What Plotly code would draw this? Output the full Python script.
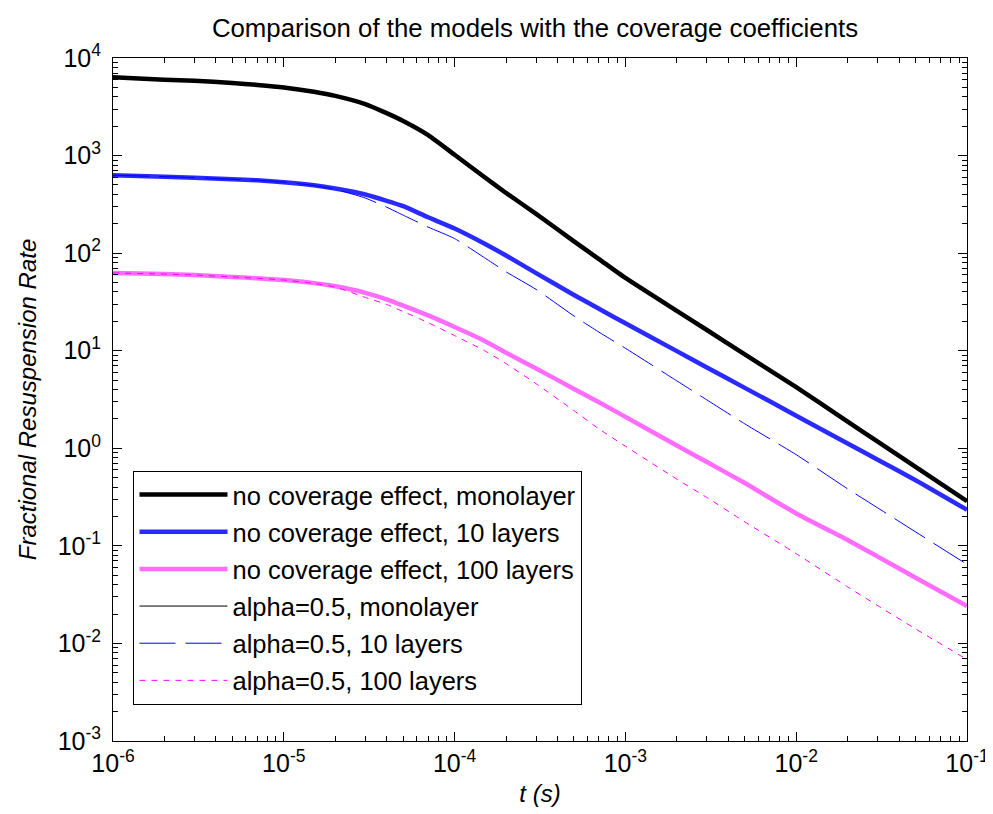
import plotly.graph_objects as go

# ---- data ----
t = [1e-6, 2e-6, 3e-6, 5e-6, 7e-6, 1e-5, 1.5e-5, 2e-5, 3e-5, 4e-5, 5e-5, 7e-5,
     1e-4, 1.5e-4, 2e-4, 3e-4, 5e-4, 7e-4, 1e-3, 2e-3, 3e-3, 5e-3,
     1e-2, 2e-2, 3e-2, 5e-2, 1e-1]

no_cov_mono = [6340, 5980, 5830, 5550, 5300, 4990, 4500, 4090, 3370, 2720, 2260, 1620,
               1020, 600, 414, 253, 132, 86.9, 55.7, 25.6, 16.3, 9.18,
               4.23, 1.88, 1.17, 0.645, 0.287]
no_cov_10 = [628, 608, 594, 571, 558, 534, 496, 459, 399, 344, 303, 233,
             179, 125, 94.6, 62.4, 37.3, 26.9, 19.1, 9.9, 6.74, 4.16,
             2.16, 1.12, 0.762, 0.471, 0.234]
no_cov_100 = [62.7, 61, 59.6, 57.1, 55.2, 53, 49.3, 45.7, 39.2, 33.6, 29, 23,
              17.5, 12.6, 9.55, 6.58, 4.06, 2.97, 2.1, 1.07, 0.723, 0.44,
              0.215, 0.115, 0.0776, 0.0472, 0.0241]
alpha_mono = [6340, 5980, 5830, 5550, 5300, 4990, 4500, 4090, 3370, 2720, 2260, 1620,
              1020, 600, 414, 253, 132, 86.9, 55.7, 25.6, 16.3, 9.18,
              4.23, 1.88, 1.17, 0.645, 0.287]
alpha_10 = [628, 608, 594, 571, 558, 534, 494, 452, 367, 296, 245, 185,
            141, 89.5, 64.4, 42.5, 22.7, 15.5, 10.6, 4.91, 3.13, 1.78,
            0.86, 0.384, 0.245, 0.139, 0.0646]
alpha_100 = [62.7, 61, 59.6, 57.1, 55.2, 53, 49.0, 44.9, 35.2, 29.8, 25.2, 19.4,
             14.3, 10.0, 7.38, 4.59, 2.43, 1.58, 1.05, 0.483, 0.313, 0.176,
             0.0832, 0.038, 0.0244, 0.0141, 0.00684]

series_names = ["no coverage effect, monolayer", "no coverage effect, 10 layers",
                "no coverage effect, 100 layers", "alpha=0.5, monolayer",
                "alpha=0.5, 10 layers", "alpha=0.5, 100 layers"]

x_tickvals = [1e-6, 1e-5, 1e-4, 1e-3, 1e-2, 1e-1]
x_ticktext = ["10<sup>-6</sup>", "10<sup>-5</sup>", "10<sup>-4</sup>",
              "10<sup>-3</sup>", "10<sup>-2</sup>", "10<sup>-1</sup>"]
y_tickvals = [1e-3, 1e-2, 1e-1, 1e0, 1e1, 1e2, 1e3, 1e4]
y_ticktext = ["10<sup>-3</sup>", "10<sup>-2</sup>", "10<sup>-1</sup>", "10<sup>0</sup>",
              "10<sup>1</sup>", "10<sup>2</sup>", "10<sup>3</sup>", "10<sup>4</sup>"]

x_minor = [m * d for d in x_tickvals[:-1] for m in range(2, 10)]
y_minor = [m * d for d in y_tickvals[:-1] for m in range(2, 10)]

FONT = "Liberation Sans, Arial, sans-serif"

styles = [
    dict(color="#000000", width=4.5, dash="solid"),
    dict(color="#2a2aff", width=4.5, dash="solid"),
    dict(color="#ff6cff", width=4.5, dash="solid"),
    dict(color="#000000", width=1, dash="solid"),
    dict(color="#0000ff", width=1, dash="36px,10px"),
    dict(color="#ff00ff", width=1, dash="6px,6px"),
]
ys = [no_cov_mono, no_cov_10, no_cov_100, alpha_mono, alpha_10, alpha_100]

fig = go.Figure()
for i, (name, y, st) in enumerate(zip(series_names, ys, styles)):
    fig.add_trace(go.Scatter(
        x=t, y=y, mode="lines", name=name, legendgroup=f"g{i}",
        line=dict(color=st["color"], width=st["width"], dash=st["dash"],
                  shape="spline", smoothing=0.5),
    ))

axis_common = dict(
    type="log", showline=True, linecolor="black", linewidth=1, mirror="allticks",
    ticks="inside", ticklen=9, tickcolor="black", tickwidth=1,
    showgrid=False, zeroline=False, ticklabeloverflow="allow",
    tickfont=dict(family=FONT, size=25, color="black"),
)

fig.update_xaxes(
    **axis_common, range=[-6, -1], tickvals=x_tickvals, ticktext=x_ticktext,
    minor=dict(tickvals=x_minor, ticks="inside", ticklen=5, tickcolor="black", showgrid=False),
    title=dict(text="t (s)", font=dict(family=FONT, size=24, color="black", style="italic"),
               standoff=9),
)
fig.update_yaxes(
    **axis_common, range=[-3, 4], tickvals=y_tickvals, ticktext=y_ticktext,
    ticklabelstandoff=6,
    minor=dict(tickvals=y_minor, ticks="inside", ticklen=5, tickcolor="black", showgrid=False),
    title=dict(text="Fractional Resuspension Rate",
               font=dict(family=FONT, size=24, color="black", style="italic"),
               standoff=14),
)

fig.update_layout(
    width=993, height=814,
    margin=dict(l=105, r=21, t=50, b=81),
    paper_bgcolor="white", plot_bgcolor="white",
    title=dict(text="Comparison of the models with the coverage coefficients",
               font=dict(family=FONT, size=25.8, color="black"),
               x=527 / 993, xref="container", xanchor="center",
               y=1 - 20 / 814, yref="container", yanchor="middle"),
    legend=dict(x=0.024, y=0.396, xanchor="left", yanchor="top",
                bgcolor="white", bordercolor="black", borderwidth=1,
                font=dict(family=FONT, size=25.5, color="black"),
                itemwidth=88, traceorder="grouped", tracegroupgap=1),
    showlegend=True,
)

fig.write_html("out.html")
